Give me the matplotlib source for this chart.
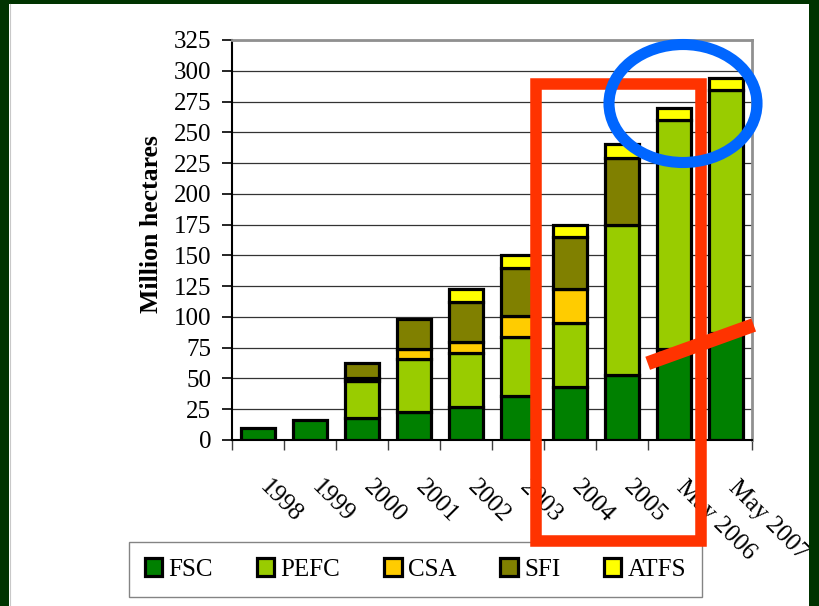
import numpy as np
import matplotlib
matplotlib.use('Agg')
import matplotlib.pyplot as plt
from matplotlib.patches import Rectangle, Ellipse
from matplotlib.lines import Line2D

# ---------------- data ----------------
categories = ['1998', '1999', '2000', '2001', '2002', '2003', '2004', '2005',
              'May 2006', 'May 2007']
fsc = [10, 16, 18, 23, 27, 36, 43, 53, 74, 87]
pefc = [0, 0, 30, 42.5, 43.5, 47.5, 52, 122, 186, 197]
csa = [0, 0, 2, 8.5, 9, 17.5, 28, 0, 0, 0]
sfi = [0, 0, 12.5, 24, 32.5, 38.5, 42, 54.5, 0, 0]
atfs = [0, 0, 0, 0, 10.5, 10.5, 9.5, 11, 9.5, 10]
series_names = ['FSC', 'PEFC', 'CSA', 'SFI', 'ATFS']
yticks = list(range(0, 326, 25))
ylabel = 'Million hectares'

colors = ['#008000', '#99CC00', '#FFCC00', '#808000', '#FFFF00']
SERIF = 'Liberation Serif'

W, H = 819, 606
fig = plt.figure(figsize=(W / 100, H / 100), dpi=100)
fig.patch.set_facecolor('white')

ax = fig.add_axes([232 / W, 1 - 440 / H, 520 / W, 400 / H])
x = np.arange(len(categories))
bottom = np.zeros(len(categories))
handles = []
for name, vals, c in zip(series_names, [fsc, pefc, csa, sfi, atfs], colors):
    v = np.array(vals, dtype=float)
    m = v > 0
    b = ax.bar(x[m], v[m], bottom=bottom[m], width=0.64, color=c,
               edgecolor='black', linewidth=2.3, zorder=3, label=name)
    handles.append(b)
    bottom += v

ax.set_xlim(-0.5, len(categories) - 0.5)
ax.set_ylim(0, 325)
ax.set_yticks(yticks)
ax.set_yticklabels([str(t) for t in yticks], fontsize=18, family=SERIF)
ax.yaxis.grid(True, color='#333333', linewidth=0.9, zorder=0)
ax.set_axisbelow(True)
ax.set_xticks(np.arange(-0.5, len(categories), 1))
ax.set_xticklabels([])
ax.tick_params(axis='x', direction='out', length=7, width=1, colors='#404040')
ax.tick_params(axis='y', direction='out', length=7, width=1.2, pad=8, colors='black')
for s in ['left', 'bottom']:
    ax.spines[s].set_color('black')
    ax.spines[s].set_linewidth(1.5)
for s in ['top', 'right']:
    ax.spines[s].set_color('#909090')
    ax.spines[s].set_linewidth(2)

for i, lab in enumerate(categories):
    ax.annotate(lab, xy=(i, 0), xycoords=('data', 'axes fraction'),
                xytext=(9.5, -26), textcoords='offset points', rotation=-45,
                ha='left', va='top', rotation_mode='anchor', fontsize=18,
                family=SERIF)

fig.text(151 / W, 1 - 224 / H, ylabel, rotation=90, ha='center', va='center',
         fontsize=18.5, fontweight='bold', family=SERIF)

leg = fig.legend(handles, series_names, loc='center',
                 bbox_to_anchor=(415.5 / W, 1 - 569.5 / H), ncol=5,
                 frameon=True, fancybox=False, edgecolor='#666666',
                 prop=dict(family=SERIF, size=18), handlelength=0.7,
                 handleheight=0.7, handletextpad=0.25, columnspacing=1.75,
                 borderpad=0.65)
leg.get_frame().set_linewidth(1.0)

# ---------------- overlay annotations (pixel space) ----------------
ov = fig.add_axes([0, 0, 1, 1], zorder=10)
ov.set_xlim(0, W)
ov.set_ylim(H, 0)
ov.axis('off')
ov.patch.set_alpha(0)
# dark green slide frame
ov.add_patch(Rectangle((0, 0), 9, H, color='#003300', lw=0))
ov.add_patch(Rectangle((0, 0), W, 4, color='#003300', lw=0))
ov.add_patch(Rectangle((809, 0), 10, H, color='#003300', lw=0))
ov.add_line(Line2D([9.5, 9.5], [4, H], color='#c8c8c8', lw=0.8))
# highlight shapes
ov.add_patch(Rectangle((536, 84), 165, 457, fill=False, edgecolor='#FF3300',
                       lw=8.3, joinstyle='miter'))
ov.add_patch(Ellipse((683, 103.5), 148, 118, fill=False, edgecolor='#0066FF',
                     lw=8))
ov.add_line(Line2D([647.7, 753.7], [363.3, 325], color='#FF3300', lw=10,
                   solid_capstyle='butt'))

fig.savefig('out.png', dpi=100)
